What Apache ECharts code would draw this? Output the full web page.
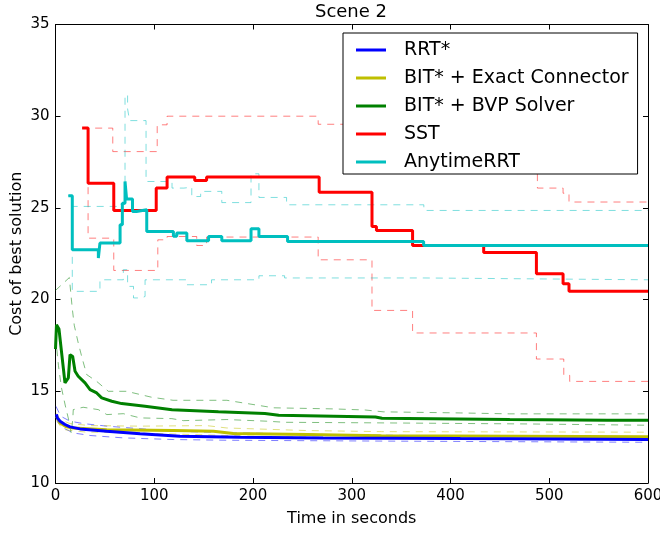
<!DOCTYPE html>
<html>
<head>
<meta charset="utf-8">
<script src="https://cdn.jsdelivr.net/npm/echarts@6/dist/echarts.min.js"></script>
<style>
  html, body { margin: 0; padding: 0; background: #fff; }
  #chart { width: 660px; height: 533px; }
</style>
</head>
<body>
<div id="chart"></div>
<script>
// Axis ticks
const xTicks = [0, 100, 200, 300, 400, 500, 600];
const yTicks = [10, 15, 20, 25, 30, 35];

// RRT* : mean and spread bounds, [time (s), cost]
const rrtMean = [[1,13.75],[1.8,13.55],[4.6,13.37],[9.6,13.19],[14.7,13.06],[24.8,12.95],[51.9,12.82],[85.6,12.68],[126,12.55],[187,12.5],[271,12.46],[410,12.42],[600,12.37]];
const rrtUpper = [[0.5,14.18],[5.3,13.64],[14.7,13.37],[28,13.24],[51.9,13.1],[119.4,12.82],[187,12.73],[281.5,12.64],[420,12.55],[600,12.5]];
const rrtLower = [[1,13.5],[2.8,13.28],[7.9,13.0],[18,12.73],[35,12.59],[68.7,12.46],[119.4,12.37],[173.5,12.33],[350,12.28],[600,12.22]];

// BIT* + Exact Connector
const bitExactMean = [[1,13.64],[4.6,13.28],[11.3,13.06],[18,13.0],[51.9,12.91],[119.4,12.86],[160,12.82],[180,12.7],[254.6,12.64],[330,12.57],[600,12.52]];
const bitExactUpper = [[1,13.8],[4.6,13.46],[14.7,13.24],[35,13.13],[85.6,13.1],[153,13.13],[173.5,13.0],[254.6,12.86],[330,12.8],[600,12.77]];
const bitExactLower = [[1,13.4],[5,13.1],[10,12.9],[30,12.78],[100,12.7],[200,12.55],[300,12.47],[600,12.42]];

// BIT* + BVP Solver
const bitBvpMean = [[0,17.3],[1,18.63],[3.5,18.4],[9.6,15.46],[13,15.73],[14.7,17.0],[17.4,16.9],[19.8,16.09],[23,15.82],[29.9,15.46],[35,15.09],[41.7,14.91],[46.8,14.64],[57,14.46],[67,14.33],[90.7,14.18],[118,14.0],[165,13.88],[212,13.79],[226,13.69],[324,13.6],[330.6,13.53],[460,13.46],[558.6,13.42],[600,13.42]];
const bitBvpUpper = [[0,20.5],[14,21.2],[17,19.5],[19,18.6],[23,17.64],[27,16.8],[31.6,15.91],[41.7,15.54],[53.5,15.0],[72,15.0],[97,14.68],[119,14.51],[173.5,14.51],[220.8,14.1],[281.5,14.04],[313.7,13.98],[332,13.88],[410,13.82],[460,13.77],[600,13.77]];
const bitBvpLower = [[0,18.0],[3,16.4],[6,15.2],[10,14.2],[14,13.3],[16,12.7],[17.5,13.5],[18,14.0],[28,14.13],[43.4,14.0],[52,13.73],[68.7,13.78],[85.6,13.55],[117.8,13.51],[129.5,13.4],[173.5,13.46],[214,13.37],[232.6,13.31],[324,13.28],[477.5,13.22],[600,13.15]];

// SST (step values: cost holds from each time until the next)
const sstMean = [[27,29.35],[33,26.35],[59,24.86],[102,26.08],[113,26.68],[141,26.5],[153,26.68],[267,25.86],[320.5,23.99],[325,23.77],[361.6,22.95],[433.6,22.57],[487,21.41],[514,20.87],[520,20.45],[600,20.45]];
const sstUpper = [[27,29.35],[58,28.07],[103,29.53],[113,30.0],[266,29.56],[488,26.08],[514,25.8],[520,25.32],[600,25.32]];
const sstLower = [[27,29.35],[33,23.35],[59,21.59],[103.6,23.26],[113,23.44],[143,22.95],[153,23.41],[266,22.17],[320.5,19.41],[361.6,18.18],[487,16.76],[514.7,15.87],[520.7,15.54],[600,15.54]];

// AnytimeRRT (step values)
const anyMean = [[13,25.66],[17,22.72],[43.4,22.27],[45,23.08],[65.4,24.08],[67.7,25.26],[70.4,26.44],[72,25.48],[78,24.8],[82,24.9],[92.4,23.72],[119.4,23.45],[122.8,23.63],[133,23.21],[155,23.44],[168.4,23.21],[198,23.86],[206,23.44],[235,23.17],[372.8,22.95],[600,22.95]];
const anyUpper = [[13,25.66],[17,25.08],[66,25.2],[70.4,31.16],[73,30.4],[75,29.76],[91.7,26.44],[118,26.08],[130,26.13],[138,25.62],[147,25.9],[168.4,25.29],[198,26.86],[206,25.57],[234,25.17],[373,24.86],[600,24.86]];
const anyLower = [[13,25.66],[17,20.45],[45,21.08],[68.7,21.63],[73,20.72],[79,20.09],[87,20.17],[90.7,21.08],[133,20.81],[158,21.08],[206,21.3],[232,21.18],[373,21.08],[600,21.08]];

const COLORS = {
  rrt: '#0000ff',
  exact: '#bfbf00',
  bvp: '#008000',
  sst: '#ff0000',
  any: '#00bfbf'
};

function mainLine(name, data, color, step) {
  return {
    name, type: 'line', data, step: step || false,
    showSymbol: false, symbol: 'none', z: 5,
    lineStyle: { color, width: 3 },
    itemStyle: { color },
    emphasis: { disabled: true }
  };
}
function boundLine(name, data, color, step) {
  return {
    name, type: 'line', data, step: step || false,
    showSymbol: false, symbol: 'none', z: 2,
    lineStyle: { color, width: 1, opacity: 0.5, type: [7, 6] },
    itemStyle: { color },
    emphasis: { disabled: true }
  };
}

const font = 'DejaVu Sans';
const chart = echarts.init(document.getElementById('chart'), null, { renderer: 'canvas' });

const axisCommon = {
  axisLine: { show: true, onZero: false, lineStyle: { color: '#000', width: 1 } },
  axisTick: { show: true, inside: true, length: 5, lineStyle: { color: '#000' } },
  splitLine: { show: false }
};

chart.setOption({
  animation: false,
  backgroundColor: '#fff',
  textStyle: { fontFamily: font },
  grid: { left: 55.5, right: 12, top: 24.5, bottom: 50, containLabel: false, outerBoundsMode: 'none' },
  xAxis: [
    Object.assign({
      type: 'value', min: xTicks[0], max: xTicks[xTicks.length - 1], interval: 100,
      name: 'Time in seconds', nameLocation: 'middle', nameGap: 28, nameMoveOverlap: false,
      nameTextStyle: { fontFamily: font, fontSize: 16, color: '#000' },
      axisLabel: { fontFamily: font, fontSize: 15, color: '#000', margin: 6 }
    }, axisCommon),
    Object.assign({
      type: 'value', position: 'top', min: xTicks[0], max: xTicks[xTicks.length - 1], interval: 100,
      axisLabel: { show: false }
    }, axisCommon)
  ],
  yAxis: [
    Object.assign({
      type: 'value', min: yTicks[0], max: yTicks[yTicks.length - 1], interval: 5,
      name: 'Cost of best solution', nameLocation: 'middle', nameGap: 31, nameMoveOverlap: false,
      nameTextStyle: { fontFamily: font, fontSize: 16, color: '#000' },
      axisLabel: { fontFamily: font, fontSize: 15, color: '#000', margin: 6 }
    }, axisCommon),
    Object.assign({
      type: 'value', position: 'right', min: yTicks[0], max: yTicks[yTicks.length - 1], interval: 5,
      axisLabel: { show: false }
    }, axisCommon)
  ],
  legend: {
    orient: 'vertical', left: 343, top: 33,
    data: ['RRT*', 'BIT* + Exact Connector', 'BIT* + BVP Solver', 'SST', 'AnytimeRRT'],
    icon: 'rect', itemWidth: 30, itemHeight: 3, itemGap: 6,
    padding: [6, 9, 1, 13],
    backgroundColor: '#fff', borderColor: '#000', borderWidth: 1, borderRadius: 0,
    textStyle: { fontFamily: font, fontSize: 19, color: '#000', lineHeight: 22, padding: [0, 0, 0, 13] },
    selectedMode: false
  },
  graphic: [{
    type: 'text', x: 351, y: 12,
    style: { text: 'Scene 2', fontFamily: font, fontSize: 18, fill: '#000', textAlign: 'center', textVerticalAlign: 'middle' }
  }],
  series: [
    boundLine('RRT* upper', rrtUpper, COLORS.rrt),
    boundLine('RRT* lower', rrtLower, COLORS.rrt),
    boundLine('Exact upper', bitExactUpper, COLORS.exact),
    boundLine('Exact lower', bitExactLower, COLORS.exact),
    boundLine('BVP upper', bitBvpUpper, COLORS.bvp),
    boundLine('BVP lower', bitBvpLower, COLORS.bvp),
    boundLine('SST upper', sstUpper, COLORS.sst, 'end'),
    boundLine('SST lower', sstLower, COLORS.sst, 'end'),
    boundLine('Anytime upper', anyUpper, COLORS.any, 'end'),
    boundLine('Anytime lower', anyLower, COLORS.any, 'end'),
    mainLine('BIT* + BVP Solver', bitBvpMean, COLORS.bvp),
    mainLine('BIT* + Exact Connector', bitExactMean, COLORS.exact),
    mainLine('RRT*', rrtMean, COLORS.rrt),
    mainLine('SST', sstMean, COLORS.sst, 'end'),
    mainLine('AnytimeRRT', anyMean, COLORS.any, 'end')
  ]
});
</script>
</body>
</html>
